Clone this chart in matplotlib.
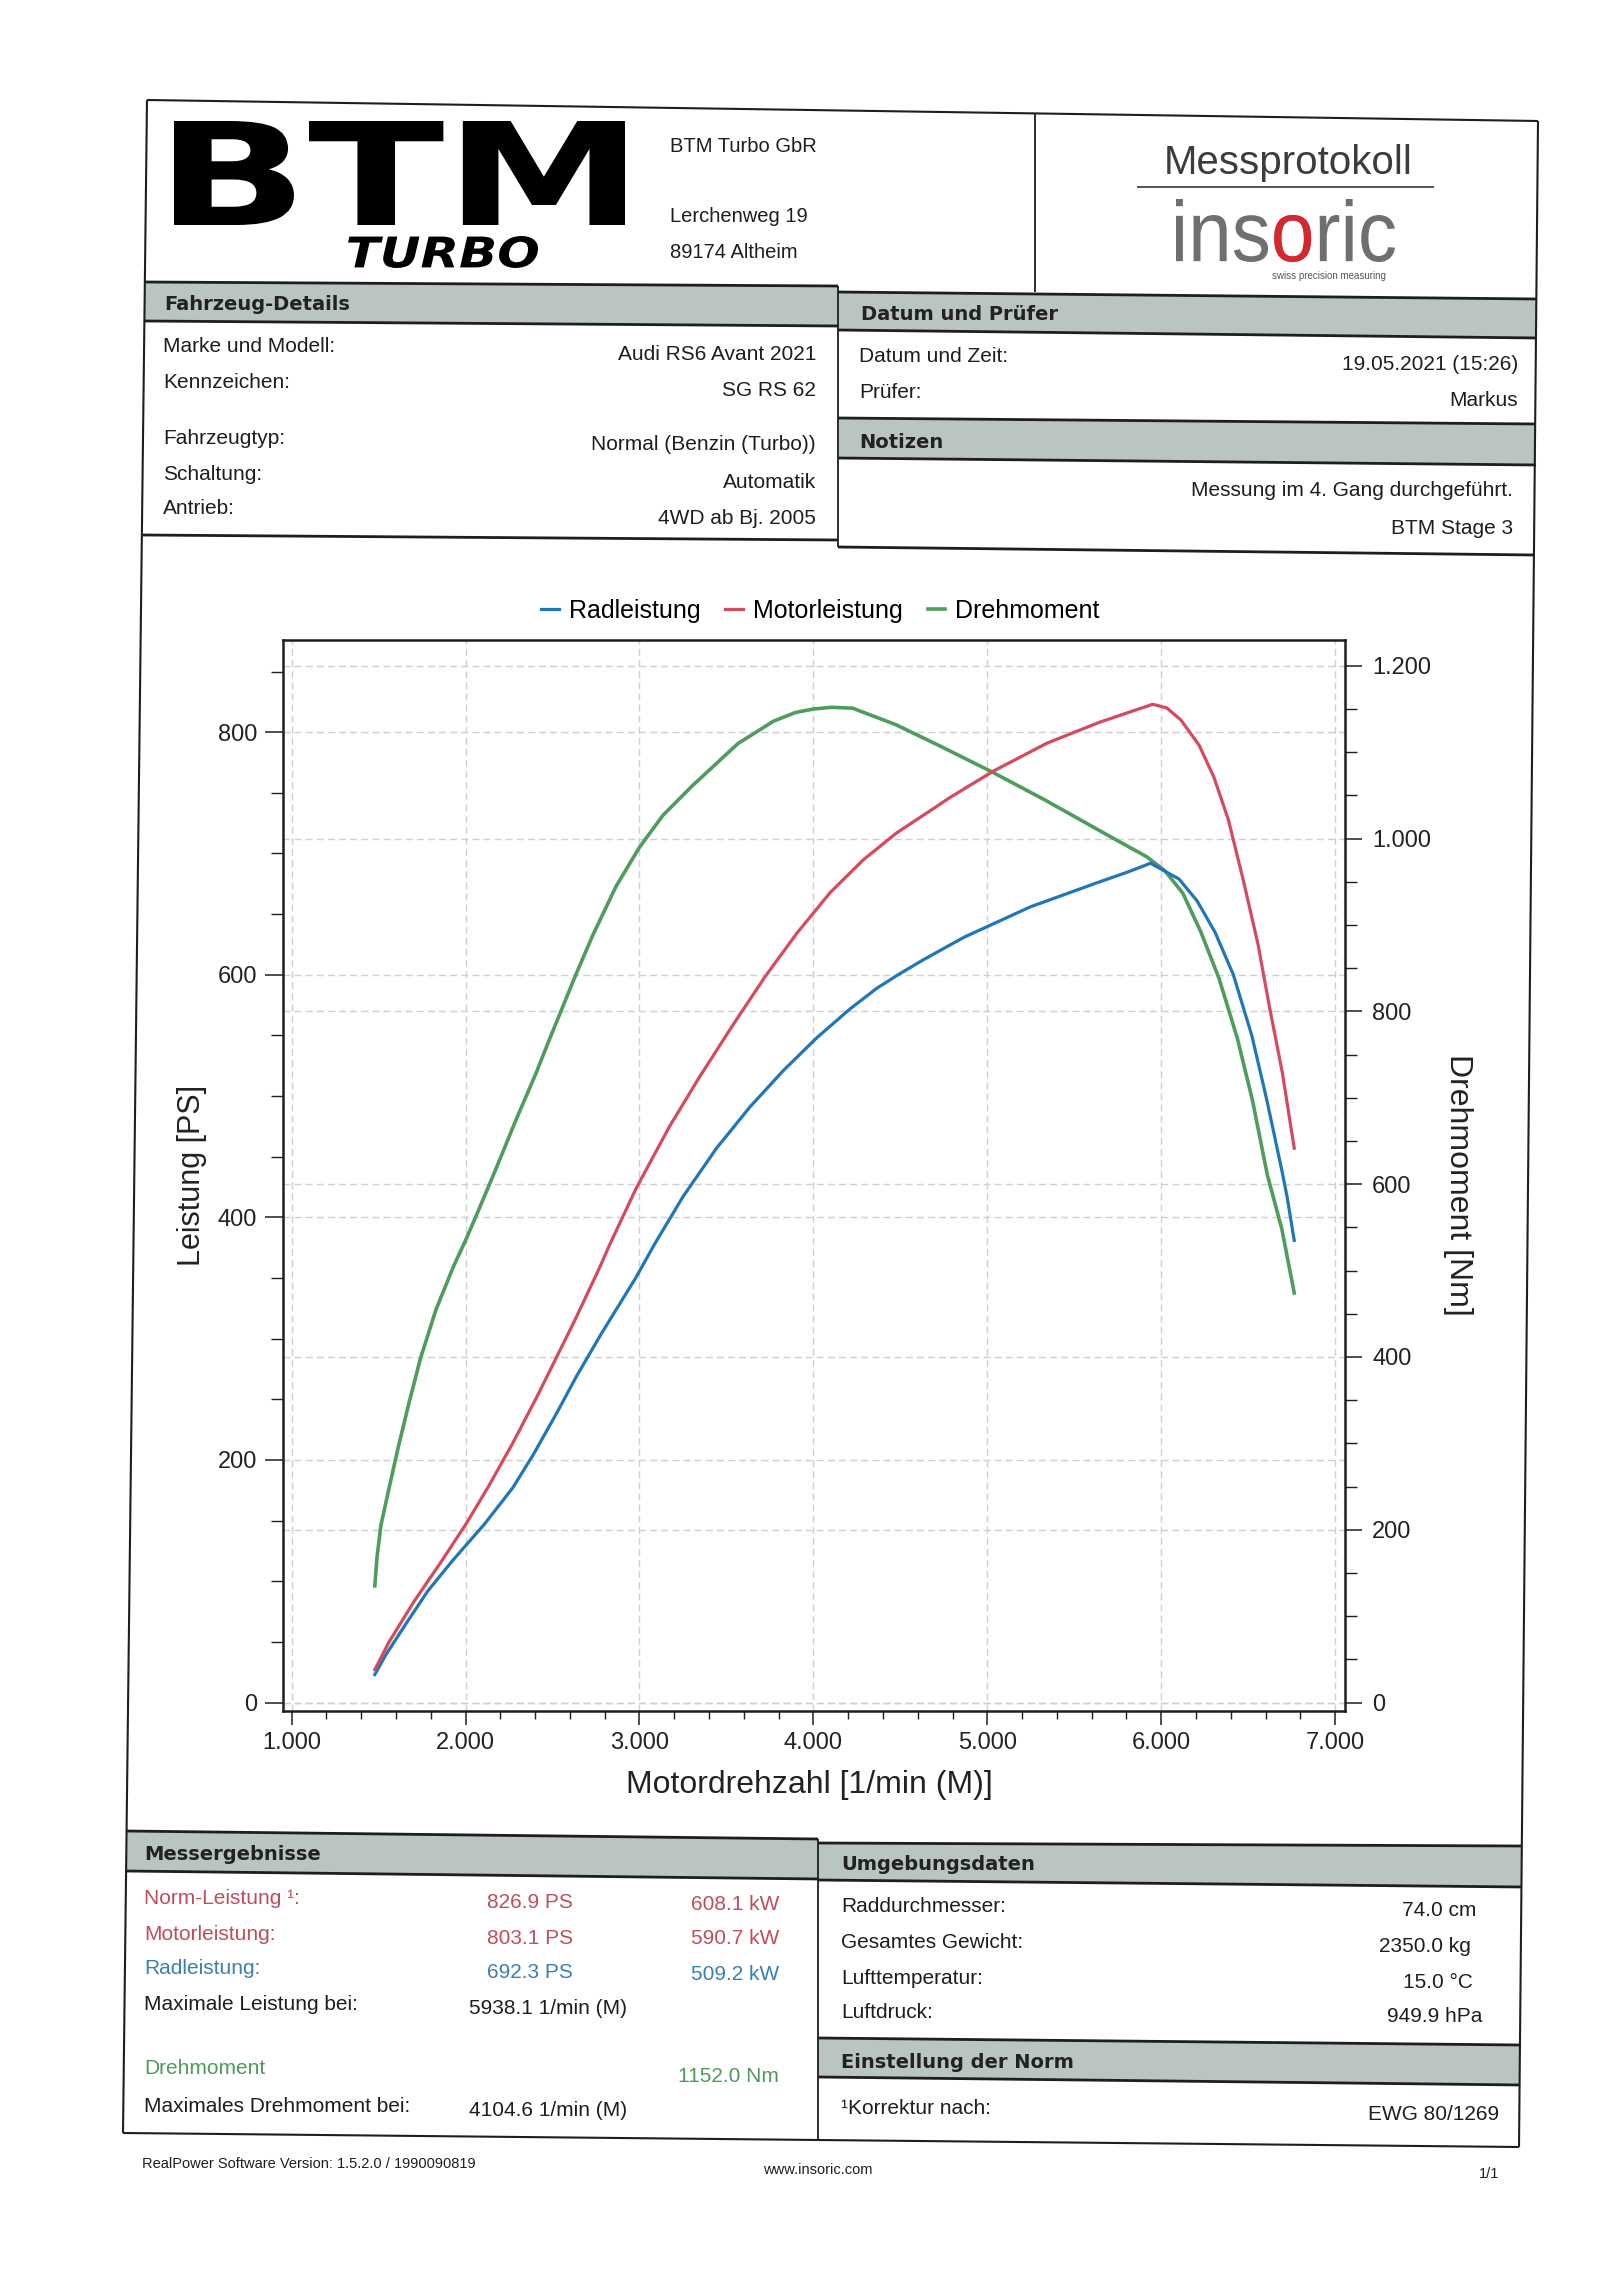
import matplotlib
matplotlib.use("Agg")
import matplotlib.pyplot as plt
from matplotlib.ticker import MultipleLocator
from matplotlib.textpath import TextPath
from matplotlib.patches import PathPatch, Polygon
from matplotlib.font_manager import FontProperties
from matplotlib.transforms import Affine2D

plt.rcParams['font.family'] = ['Liberation Sans', 'DejaVu Sans']

# ---------------- chart data ----------------
rad_rpm = [1478, 1540, 1662, 1783, 1925, 2108, 2271, 2392, 2533, 2634, 2776, 2978, 3087,
           3250, 3443, 3635, 3827, 4019, 4212, 4366, 4487, 4628, 4867, 5248, 5634, 5794,
           5904, 5938, 6102, 6206, 6310, 6415, 6521, 6607, 6692, 6724, 6765]
rad_ps = [23, 39, 66, 92, 117, 147, 177, 205, 241, 268, 303, 350, 378,
          417, 457, 491, 521, 548, 572, 589, 600, 612, 631, 656, 676, 684,
          690, 692, 679, 661, 635, 600, 550, 497, 440, 417, 381]

mot_rpm = [1478, 1560, 1702, 1864, 2006, 2127, 2268, 2410, 2531, 2631, 2772, 2827, 2981,
           3173, 3342, 3530, 3720, 3909, 4098, 4289, 4479, 4669, 4784, 5036, 5344, 5642,
           5847, 5952, 6032, 6114, 6219, 6303, 6386, 6472, 6557, 6622, 6697, 6765]
mot_ps = [27, 50, 83, 117, 148, 177, 213, 252, 287, 316, 359, 377, 424,
          475, 515, 557, 598, 635, 668, 695, 717, 735, 746, 768, 791, 808,
          818, 823, 820, 810, 789, 763, 728, 678, 625, 574, 519, 457]

drm_rpm = [1478, 1490, 1513, 1562, 1611, 1671, 1740, 1830, 1931, 2002, 2058, 2173, 2289,
           2404, 2481, 2558, 2635, 2731, 2866, 3000, 3135, 3308, 3362, 3566, 3771, 3897,
           4000, 4105, 4225, 4473, 4720, 5029, 5338, 5710, 5917, 6020, 6124, 6228, 6333,
           6439, 6525, 6610, 6694, 6765]
drm_nm = [135, 167, 205, 250, 294, 344, 398, 455, 505, 536, 562, 617, 674,
          728, 767, 805, 843, 888, 945, 990, 1027, 1062, 1072, 1110, 1136, 1146,
          1150, 1152, 1151, 1132, 1108, 1077, 1044, 1002, 979, 963, 937, 892, 838,
          768, 697, 611, 548, 474]

series_labels = ['Radleistung', 'Motorleistung', 'Drehmoment']
x_ticks = [1000, 2000, 3000, 4000, 5000, 6000, 7000]
x_tick_labels = ['1.000', '2.000', '3.000', '4.000', '5.000', '6.000', '7.000']
ps_ticks = [0, 200, 400, 600, 800]
ps_tick_labels = ['0', '200', '400', '600', '800']
nm_ticks = [0, 200, 400, 600, 800, 1000, 1200]
nm_tick_labels = ['0', '200', '400', '600', '800', '1.000', '1.200']
x_label = 'Motordrehzahl [1/min (M)]'
ps_label = 'Leistung [PS]'
nm_label = 'Drehmoment [Nm]'

# ---------------- document text ----------------
company_lines = ['BTM Turbo GbR', 'Lerchenweg 19', '89174 Altheim']
veh_labels = ['Marke und Modell:', 'Kennzeichen:', 'Fahrzeugtyp:', 'Schaltung:', 'Antrieb:']
veh_values = ['Audi RS6 Avant 2021', 'SG RS 62', 'Normal (Benzin (Turbo))', 'Automatik',
              '4WD ab Bj. 2005']
date_labels = ['Datum und Zeit:', 'Prüfer:']
date_values = ['19.05.2021 (15:26)', 'Markus']
notes = ['Messung im 4. Gang durchgeführt.', 'BTM Stage 3']
res_labels = ['Norm-Leistung ¹:', 'Motorleistung:', 'Radleistung:']
res_ps = ['826.9 PS', '803.1 PS', '692.3 PS']
res_kw = ['608.1 kW', '590.7 kW', '509.2 kW']
max_power_label = 'Maximale Leistung bei:'
max_power_rpm = '5938.1 1/min (M)'
torque_label = 'Drehmoment'
torque_value = '1152.0 Nm'
max_torque_label = 'Maximales Drehmoment bei:'
max_torque_rpm = '4104.6 1/min (M)'
env_labels = ['Raddurchmesser:', 'Gesamtes Gewicht:', 'Lufttemperatur:', 'Luftdruck:']
env_values = ['74.0 cm', '2350.0 kg', '15.0 °C', '949.9 hPa']
norm_label = '¹Korrektur nach:'
norm_value = 'EWG 80/1269'
footer_left = 'RealPower Software Version: 1.5.2.0 / 1990090819'
footer_mid = 'www.insoric.com'
footer_right = '1/1'

# ---------------- styles ----------------
W, H = 1599, 2282
INK = '#1e1e1e'
BAR = '#bac4c2'
C_BLUE = '#2176b6'
C_RED = '#d34b5d'
C_GREEN = '#4f9c5c'
T_RED = '#bf4d5c'
T_BLUE = '#3a7fae'
T_GREEN = '#4f9a5b'
GRID = '#cfcfcf'

fig = plt.figure(figsize=(W / 100, H / 100), dpi=100)
fig.patch.set_facecolor('white')
page = fig.add_axes([0, 0, 1, 1], zorder=0)
page.set_xlim(0, W)
page.set_ylim(H, 0)
page.set_autoscale_on(False)
page.axis('off')


def line(pts, lw=1.5, color=INK):
    xs, ys = zip(*pts)
    page.plot(xs, ys, color=color, lw=lw, solid_capstyle='butt')


def bar(x0, x1, yt0, yt1, yb0, yb1):
    page.add_patch(Polygon([(x0, yt0), (x1, yt1), (x1, yb1), (x0, yb0)], closed=True,
                           fc=BAR, ec='none'))
    line([(x0, yt0), (x1, yt1)], lw=2.0)
    line([(x0, yb0), (x1, yb1)], lw=2.0)


def path_in_box(text, box, prop, color, sub=None, sub_color=None):
    x0, y0, x1, y1 = box
    tp = TextPath((0, 0), text, size=100, prop=prop)
    ext = tp.get_extents()
    tr = Affine2D().translate(-ext.x0, -ext.y1).scale((x1 - x0) / ext.width,
                                                     -(y1 - y0) / ext.height).translate(x0, y0)
    page.add_patch(PathPatch(tr.transform_path(tp), fc=color, ec='none'))
    if sub is not None:
        idx = text.index(sub)
        pre = TextPath((0, 0), text[:idx + len(sub)], size=100, prop=prop).get_extents()
        loc = TextPath((0, 0), sub, size=100, prop=prop).get_extents()
        tps = TextPath((pre.x1 - loc.x1, 0), sub, size=100, prop=prop)
        page.add_patch(PathPatch(tr.transform_path(tps), fc=sub_color, ec='none'))


def txt(x, y, s, size=15, ha='left', color=INK, bold=False, family=None, **kw):
    fam = family if family else ['Liberation Sans', 'DejaVu Sans']
    page.text(x, y, s, fontsize=size, ha=ha, va='center_baseline', color=color,
              fontweight='bold' if bold else 'normal', family=fam, **kw)


def title(x, y, s):
    txt(x, y, s, size=14, bold=True, family=['DejaVu Sans'], color='#222222')


# ---------------- frame ----------------
line([(147, 100), (1538, 121)])
line([(147, 100), (123, 2133)])
line([(1538, 121), (1519, 2147)])
line([(123, 2133), (818, 2140), (1519, 2147)])
line([(1035, 114), (1035, 292)], lw=1.3)

bar(145, 838, 282, 286, 321, 326)
bar(838, 1537, 292, 299, 330, 338)
bar(838, 1536, 418, 424, 458, 465)
line([(143, 535), (838, 540)], lw=2.0)
line([(838, 547), (1534, 555)], lw=2.0)
line([(838, 286), (838, 547)], lw=1.3)

bar(126, 818, 1831, 1839, 1871, 1879)
bar(818, 1522, 1843, 1846, 1880, 1887)
bar(818, 1520, 2038, 2045, 2077, 2085)
line([(818, 1839), (818, 2140)], lw=1.3)

# ---------------- header ----------------
path_in_box('BTM', (174, 121, 625, 225), FontProperties(family='DejaVu Sans', weight='bold'), 'black')
path_in_box('TURBO', (348, 236, 538, 268),
            FontProperties(family='DejaVu Sans', weight='bold', style='italic'), 'black')
for s, y in zip(company_lines, [145, 215, 251]):
    txt(670, y, s, size=14.5)

page.text(1288, 174, 'Messprotokoll', fontsize=29, ha='center', va='baseline', color='#3c3c3c')
line([(1137, 187), (1434, 187)], lw=1.4, color='#555555')
path_in_box('insoric', (1176, 199, 1395, 262), FontProperties(family='Liberation Sans'),
            '#6f6f6f', sub='o', sub_color='#d7262e')
txt(1386, 275, 'swiss precision measuring', size=7, ha='right', color='#555555')

# ---------------- vehicle / date panels ----------------
title(164, 302, 'Fahrzeug-Details')
title(861, 313, 'Datum und Prüfer')
title(859, 440, 'Notizen')
for s, y in zip(veh_labels, [344, 380, 437, 473, 507]):
    txt(163, y, s)
for s, y in zip(veh_values, [352, 388, 443, 480, 517]):
    txt(816, y, s, ha='right')
for s, y in zip(date_labels, [355, 390]):
    txt(859, y, s)
for s, y in zip(date_values, [362, 398]):
    txt(1518, y, s, ha='right')
for s, y in zip(notes, [488, 527]):
    txt(1513, y, s, ha='right')

# ---------------- results ----------------
title(144, 1853, 'Messergebnisse')
title(841, 1862, 'Umgebungsdaten')
title(841, 2060, 'Einstellung der Norm')
res_colors = [T_RED, T_RED, T_BLUE]
for s, y, c in zip(res_labels, [1897, 1933, 1967], res_colors):
    txt(144, y, s, color=c)
for s, y, c in zip(res_ps, [1900, 1936, 1971], res_colors):
    txt(573, y, s, ha='right', color=c)
for s, y, c in zip(res_kw, [1902, 1937, 1973], res_colors):
    txt(779, y, s, ha='right', color=c)
txt(144, 2003, max_power_label)
txt(469, 2007, max_power_rpm)
txt(144, 2067, torque_label, color=T_GREEN)
txt(779, 2074, torque_value, ha='right', color=T_GREEN)
txt(144, 2105, max_torque_label)
txt(469, 2108, max_torque_rpm)
for s, y in zip(env_labels, [1905, 1940, 1976, 2010]):
    txt(841, y, s)
for s, y, x in zip(env_values, [1908, 1945, 1980, 2015], [1476, 1471, 1473, 1482]):
    txt(x, y, s, ha='right')
txt(841, 2106, norm_label)
txt(1499, 2112, norm_value, ha='right')
txt(142, 2162, footer_left, size=10.5)
txt(818, 2168, footer_mid, size=10.5, ha='center')
txt(1499, 2173, footer_right, size=10.5, ha='right')

# ---------------- chart ----------------
pos = [283 / W, 1 - 1711 / H, 1062 / W, 1071 / H]
XLIM = (950, 7057)
PS_LIM = (-7, 876)
NM_RATIO = 1.404
NM_LIM = (PS_LIM[0] * NM_RATIO, PS_LIM[1] * NM_RATIO)
dash = (0, (5, 3))

ax_bg = fig.add_axes(pos, zorder=1)
ax_bg.set_xlim(*XLIM)
ax_bg.set_ylim(*PS_LIM)
ax_bg.set_xticks(x_ticks)
ax_bg.set_yticks(ps_ticks)
ax_bg.grid(True, color=GRID, lw=1.0, ls=dash)
ax_bg.tick_params(length=0, labelbottom=False, labelleft=False)
for sp in ax_bg.spines.values():
    sp.set_visible(False)

ax = fig.add_axes(pos, zorder=3)
ax.patch.set_visible(False)
ax2 = ax.twinx()
ax2.set_zorder(2)
ax2.patch.set_visible(False)

ax.set_xlim(*XLIM)
ax.set_ylim(*PS_LIM)
ax2.set_ylim(*NM_LIM)

ax2.set_yticks(nm_ticks)
ax2.grid(True, axis='y', color=GRID, lw=1.0, ls=dash)
for sp in ax2.spines.values():
    sp.set_visible(False)

l1, = ax.plot(rad_rpm, rad_ps, color=C_BLUE, lw=2.3, solid_joinstyle='round')
l2, = ax.plot(mot_rpm, mot_ps, color=C_RED, lw=2.3, solid_joinstyle='round')
l3, = ax2.plot(drm_rpm, drm_nm, color=C_GREEN, lw=2.6, solid_joinstyle='round')

ax.set_xticks(x_ticks)
ax.set_xticklabels(x_tick_labels)
ax.xaxis.set_minor_locator(MultipleLocator(200))
ax.set_yticks(ps_ticks)
ax.set_yticklabels(ps_tick_labels)
ax.yaxis.set_minor_locator(MultipleLocator(50))
ax2.set_yticklabels(nm_tick_labels)
ax2.yaxis.set_minor_locator(MultipleLocator(50))

ax.tick_params(axis='x', which='major', length=10, width=1.1, pad=5, labelsize=17,
               color=INK, labelcolor='#222222')
ax.tick_params(axis='x', which='minor', length=6, width=1.0, color=INK)
ax.tick_params(axis='y', which='major', length=13, width=1.1, pad=5.5, labelsize=17,
               color=INK, labelcolor='#222222', right=False)
ax.tick_params(axis='y', which='minor', length=9, width=1.0, color=INK, right=False)
ax2.tick_params(axis='y', which='major', length=12.5, width=1.1, pad=7, labelsize=17,
                color=INK, labelcolor='#222222')
ax2.tick_params(axis='y', which='minor', length=8.5, width=1.0, color=INK)

for sp in ax.spines.values():
    sp.set_linewidth(1.8)
    sp.set_color(INK)

ax.set_ylabel(ps_label, fontsize=22, color='#222222', va='center')
ax.yaxis.set_label_coords(-0.0857, 0.5)
ax2.set_ylabel(nm_label, fontsize=23, color='#222222', rotation=270, va='center')
ax2.yaxis.set_label_coords(1.106, 0.491)
ax.set_xlabel(x_label, fontsize=23, color='#222222', va='center')
ax.xaxis.set_label_coords(0.4953, -0.069)

ax.legend([l1, l2, l3], series_labels, loc='center', bbox_to_anchor=(0.506, 1.027),
          ncol=3, frameon=False, fontsize=18, handlelength=0.7, handletextpad=0.4,
          columnspacing=1.0, borderaxespad=0, borderpad=0)

fig.savefig('out.png', dpi=100, facecolor='white')
